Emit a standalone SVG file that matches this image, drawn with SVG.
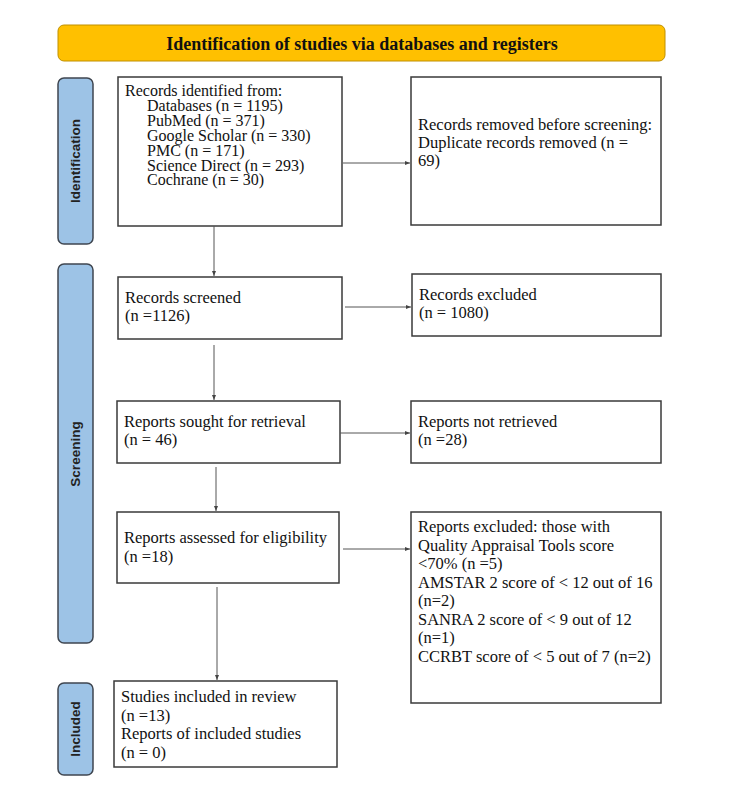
<svg xmlns="http://www.w3.org/2000/svg" width="750" height="807" viewBox="0 0 750 807">
<defs>
<marker id="ah" markerWidth="6" markerHeight="6" refX="5" refY="3" orient="auto" markerUnits="userSpaceOnUse">
<path d="M0,1 L5,3 L0,5 z" fill="#444"/>
</marker>
</defs>
<style>
.box{fill:#fff;stroke:#3a3a3a;stroke-width:1.5}
.bar{fill:#9dc3e6;stroke:#3f4650;stroke-width:1.5}
.t{font-family:"Liberation Serif","Times New Roman",serif;font-size:16.5px;fill:#111}
.t1{font-family:"Liberation Serif","Times New Roman",serif;font-size:16px;fill:#111}
.lab{font-family:"Liberation Sans",Arial,sans-serif;font-size:13.5px;font-weight:bold;fill:#222;text-anchor:middle}
.con{stroke:#555;stroke-width:1;fill:none;marker-end:url(#ah)}
</style>
<rect width="750" height="807" fill="#fff"/>
<g id="header">
<rect x="58" y="25" width="607" height="36" rx="6" fill="#ffc000" stroke="#c09000" stroke-width="1"/>
<text x="362" y="49.5" text-anchor="middle" style="font-family:'Liberation Serif','Times New Roman',serif;font-size:18px;font-weight:bold;fill:#111">Identification of studies via databases and registers</text>
</g>
<g id="bar-identification">
<rect class="bar" x="58" y="78" width="35" height="166" rx="6"/>
<text class="lab" transform="translate(80,161) rotate(-90)">Identification</text>
</g>
<g id="bar-screening">
<rect class="bar" x="58" y="264" width="35" height="379" rx="6"/>
<text class="lab" transform="translate(80,454) rotate(-90)">Screening</text>
</g>
<g id="bar-included">
<rect class="bar" x="58" y="683" width="35" height="92" rx="6"/>
<text class="lab" transform="translate(80,729) rotate(-90)">Included</text>
</g>
<g id="records-identified">
<rect class="box" x="118" y="77" width="224" height="149"/>
<text class="t1" x="125" y="96">Records identified from:</text>
<text class="t1" x="147" y="111">Databases (n = 1195)</text>
<text class="t1" x="147" y="126">PubMed (n = 371)</text>
<text class="t1" x="147" y="141">Google Scholar (n = 330)</text>
<text class="t1" x="147" y="156">PMC (n = 171)</text>
<text class="t1" x="147" y="171">Science Direct (n = 293)</text>
<text class="t1" x="147" y="185">Cochrane (n = 30)</text>
</g>
<g id="records-removed">
<rect class="box" x="411" y="77" width="250" height="148"/>
<text class="t" x="418" y="130">Records removed before screening:</text>
<text class="t" x="418" y="148">Duplicate records removed (n =</text>
<text class="t" x="418" y="166">69)</text>
</g>
<g id="records-screened">
<rect class="box" x="118" y="277" width="224" height="62"/>
<text class="t" x="125" y="303">Records screened</text>
<text class="t" x="125" y="321">(n =1126)</text>
</g>
<g id="records-excluded">
<rect class="box" x="412" y="274" width="249" height="62"/>
<text class="t" x="419" y="300">Records excluded</text>
<text class="t" x="419" y="318">(n = 1080)</text>
</g>
<g id="reports-sought">
<rect class="box" x="117" y="401" width="223" height="62"/>
<text class="t" x="124" y="427">Reports sought for retrieval</text>
<text class="t" x="124" y="445">(n = 46)</text>
</g>
<g id="reports-not-retrieved">
<rect class="box" x="411" y="401" width="250" height="62"/>
<text class="t" x="418" y="427">Reports not retrieved</text>
<text class="t" x="418" y="445">(n =28)</text>
</g>
<g id="reports-assessed">
<rect class="box" x="117" y="512" width="222" height="71"/>
<text class="t" x="124" y="543">Reports assessed for eligibility</text>
<text class="t" x="124" y="562">(n =18)</text>
</g>
<g id="reports-excluded">
<rect class="box" x="411" y="512" width="250" height="191"/>
<text class="t" x="418" y="532">Reports excluded: those with</text>
<text class="t" x="418" y="550.5">Quality Appraisal Tools score</text>
<text class="t" x="418" y="569">&lt;70% (n =5)</text>
<text class="t" x="418" y="587.5">AMSTAR 2 score of &lt; 12 out of 16</text>
<text class="t" x="418" y="606">(n=2)</text>
<text class="t" x="418" y="624.5">SANRA 2 score of &lt; 9 out of 12</text>
<text class="t" x="418" y="643">(n=1)</text>
<text class="t" x="418" y="661.5">CCRBT score of &lt; 5 out of 7 (n=2)</text>
</g>
<g id="studies-included">
<rect class="box" x="114" y="681" width="223" height="86"/>
<text class="t" x="121" y="702">Studies included in review</text>
<text class="t" x="121" y="720.5">(n =13)</text>
<text class="t" x="121" y="739">Reports of included studies</text>
<text class="t" x="121" y="757.5">(n = 0)</text>
</g>
<g id="connectors">
<line class="con" x1="343" y1="163" x2="410" y2="163"/>
<line class="con" x1="214" y1="226" x2="214" y2="276"/>
<line class="con" x1="345" y1="307" x2="411" y2="307"/>
<line class="con" x1="214" y1="345" x2="214" y2="400"/>
<line class="con" x1="340" y1="433" x2="410" y2="433"/>
<line class="con" x1="216" y1="467" x2="216" y2="511"/>
<line class="con" x1="343" y1="549" x2="410" y2="549"/>
<line class="con" x1="217" y1="587" x2="217" y2="680"/>
</g>
</svg>
